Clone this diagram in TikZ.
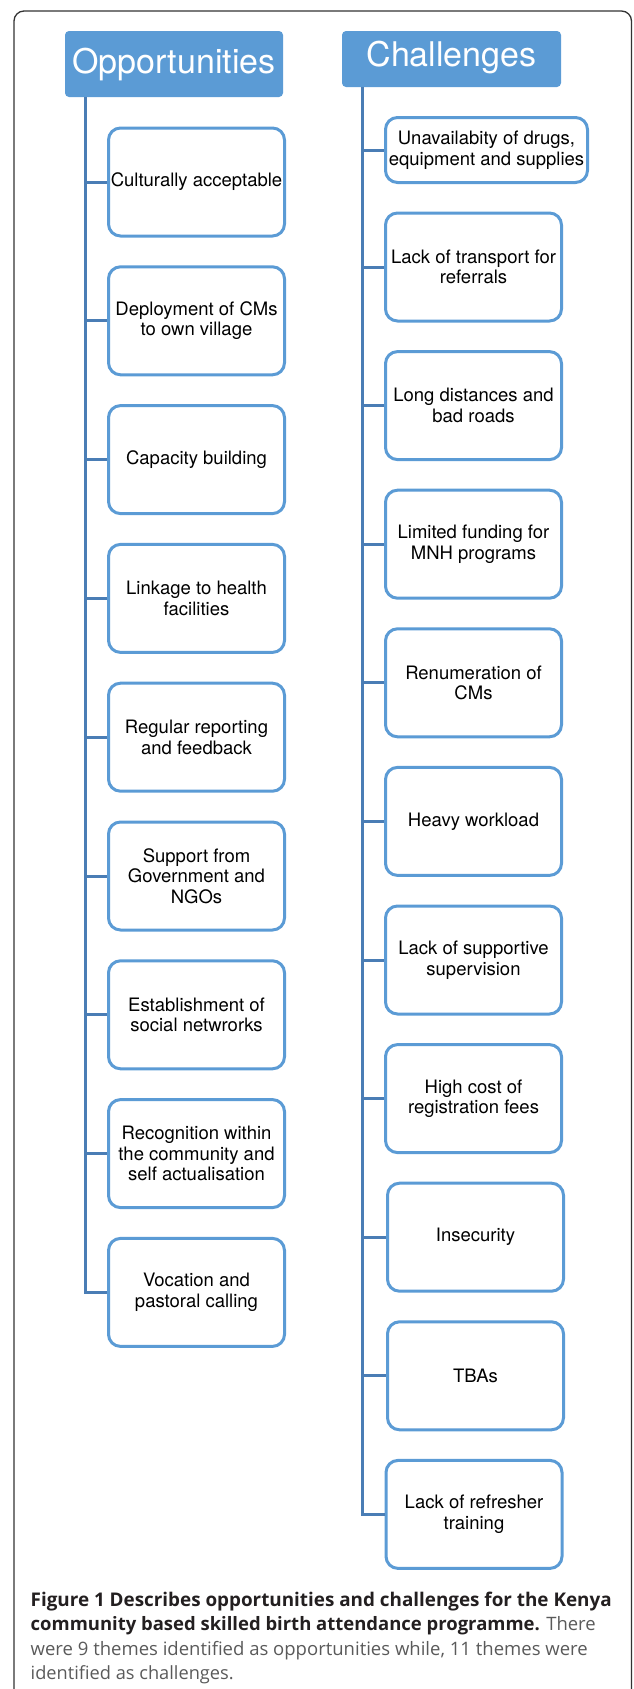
\documentclass[tikz,border=0pt]{standalone}
\usepackage{graphicx}
\usepackage{fontspec}
\newfontfamily\boxfont{TeX Gyre Heros}
\newfontfamily\capfont{Open Sans}
\definecolor{hblue}{HTML}{5B9BD5}
\definecolor{bblue}{HTML}{5B9BD5}
\definecolor{lblue}{HTML}{4A7DB5}
\definecolor{capgray}{HTML}{5A5A5A}
\definecolor{capblack}{HTML}{231F20}
\definecolor{framegray}{HTML}{333333}
\tikzset{
  header/.style={fill=hblue, rounded corners=4pt, inner sep=0pt, text=white,
    font=\boxfont\fontsize{34}{40}\selectfont},
  tbox/.style={draw=bblue, line width=3pt, fill=white, rounded corners=12pt,
    minimum width=176pt, minimum height=108pt, inner sep=0pt, align=center,
    font=\boxfont\fontsize{18.5}{20.5}\selectfont},
  conn/.style={draw=lblue, line width=3pt},
  capline/.style={anchor=base west, inner sep=0pt, font=\capfont\fontsize{18.5}{22}\selectfont}
}
\begin{document}
\begin{tikzpicture}[x=1pt,y=-1pt]
\useasboundingbox (0,0) rectangle (633,1689);
\begin{scope}
\clip (0,0) rectangle (633,1689);
\draw[framegray, line width=1.3pt, rounded corners=10pt] (14,11) rectangle (631.5,1760);
\end{scope}

% headers
\node[header, minimum width=218pt, text height=42pt, text depth=24pt] (oh) at (174,64) {Opportunities};
\node[header, minimum width=219pt, text height=35.7pt, text depth=20.3pt] (ch) at (451.5,59) {Challenges};

% left boxes
\node[tbox] (o1) at (196.5,182) {Culturally acceptable};
\node[tbox] (o2) at (196.5,320.8) {Deployment of CMs\\to own village};
\node[tbox] (o3) at (196.5,459.6) {Capacity building};
\node[tbox] (o4) at (196.5,598.4) {Linkage to health\\facilities};
\node[tbox] (o5) at (196.5,737.2) {Regular reporting\\and feedback};
\node[tbox] (o6) at (196.5,876) {Support from\\Government and\\NGOs};
\node[tbox] (o7) at (196.5,1014.8) {Establishment of\\social netwrorks};
\node[tbox] (o8) at (196.5,1153.6) {Recognition within\\the community and\\self actualisation};
\node[tbox] (o9) at (196.5,1292.4) {Vocation and\\pastoral calling};

% right boxes
\node[tbox, minimum width=202pt, minimum height=65pt] (c1) at (486.5,150) {Unavailabity of drugs,\\equipment and supplies};
\node[tbox] (c2) at (473.5,267) {Lack of transport for\\referrals};
\node[tbox] (c3) at (473.5,405.6) {Long distances and\\bad roads};
\node[tbox] (c4) at (473.5,544.2) {Limited funding for\\MNH programs};
\node[tbox] (c5) at (473.5,682.8) {Renumeration of\\CMs};
\node[tbox] (c6) at (473.5,821.4) {Heavy workload};
\node[tbox] (c7) at (473.5,960) {Lack of supportive\\supervision};
\node[tbox] (c8) at (473.5,1098.6) {High cost of\\registration fees};
\node[tbox] (c9) at (475.5,1237.2) {Insecurity};
\node[tbox] (c10) at (475.5,1375.8) {TBAs};
\node[tbox] (c11) at (474,1514.4) {Lack of refresher\\training};

% left trunk
\coordinate (ltop) at (85.5,97);
\foreach \i in {1,...,9} { \coordinate (lv\i) at (85.5,0 |- o\i.west); }
\draw[conn] (ltop) -- (lv9) -- (o9.west);
\foreach \i in {1,...,8} { \draw[conn] (lv\i) -- (o\i.west); }

% right trunk
\coordinate (rtop) at (362.5,87);
\foreach \i in {1,...,11} { \coordinate (rv\i) at (362.5,0 |- c\i.west); }
\draw[conn] (rtop) -- (rv11) -- (c11.west);
\foreach \i in {1,...,10} { \draw[conn] (rv\i) -- (c\i.west); }

% caption
\node[capline] (cap1) at (30.5,1606) {\resizebox{581pt}{!}{\color{capblack}\bfseries Figure 1 Describes opportunities and challenges for the Kenya}};
\node[capline] (cap2) at (30.5,1630.5) {\resizebox{565pt}{!}{\color{capblack}\bfseries community based skilled birth attendance programme.\color{capgray}\mdseries{} There}};
\node[capline, text=capgray] (cap3) at (30.5,1655) {\resizebox{557pt}{!}{were 9 themes identified as opportunities while, 11 themes were}};
\node[capline, text=capgray] (cap4) at (30.5,1679.5) {\resizebox{203pt}{!}{identified as challenges.}};
\end{tikzpicture}
\end{document}
